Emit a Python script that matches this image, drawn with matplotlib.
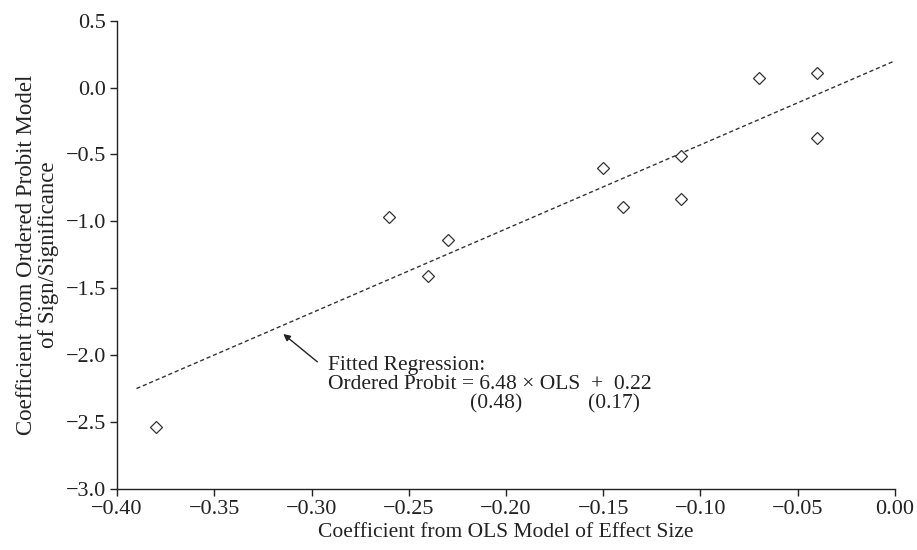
import matplotlib
matplotlib.use("Agg")
import matplotlib.pyplot as plt

# values
ols = [-0.38, -0.26, -0.24, -0.23, -0.15, -0.14, -0.11, -0.11, -0.07, -0.04, -0.04]
probit = [-2.54, -0.97, -1.41, -1.14, -0.60, -0.89, -0.51, -0.83, 0.07, 0.11, -0.38]
fit_x = [-0.39, 0.0]
fit_y = [-2.25, 0.20]

xticks = [-0.40, -0.35, -0.30, -0.25, -0.20, -0.15, -0.10, -0.05, 0.00]
yticks = [-3.0, -2.5, -2.0, -1.5, -1.0, -0.5, 0.0, 0.5]

def fmt(v, nd):
    s = "%.*f" % (nd, abs(v))
    return ("\u2212" + s) if v < 0 else s

plt.rcParams['font.family'] = ['Liberation Serif', 'DejaVu Serif']
fig = plt.figure(figsize=(9.17, 5.5), dpi=100)
ax = fig.add_axes([0.1276, 0.111, 0.976 - 0.1276, 0.9625 - 0.111])

ax.plot(fit_x, fit_y, color='#333333', lw=1.0, dashes=(3, 2))
ax.plot(ols, probit, ls='none', marker='D', ms=6, mfc='white',
        mec='#333333', mew=0.9)

ax.set_xlim(-0.40, 0.0)
ax.set_ylim(-3.0, 0.5)
ax.set_xticks(xticks)
ax.set_xticklabels([fmt(v, 2) for v in xticks])
ax.set_yticks(yticks)
ax.set_yticklabels([fmt(v, 1) for v in yticks])
for s in ['top', 'right']:
    ax.spines[s].set_visible(False)
for s in ['left', 'bottom']:
    ax.spines[s].set_linewidth(1.0)
    ax.spines[s].set_color('#222222')
ax.tick_params(direction='out', length=5, width=1.0, labelsize=16,
               colors='#222222', pad=3)

ax.set_xlabel('Coefficient from OLS Model of Effect Size', fontsize=15.5,
              color='#222222', labelpad=3)
ax.set_ylabel('Coefficient from Ordered Probit Model\nof Sign/Significance',
              fontsize=16.5, color='#222222', labelpad=5, linespacing=1.05)

ax.annotate('', xy=(-0.3145, -1.842), xytext=(-0.297, -2.05),
            arrowprops=dict(arrowstyle='-|>', color='#222222', lw=1.0,
                            mutation_scale=10, shrinkA=0, shrinkB=0))
tk = dict(fontsize=15.5, color='#222222', va='center', ha='left')
ax.text(-0.2915, -2.074, 'Fitted Regression:', **tk)
ax.text(-0.2915, -2.223, 'Ordered Probit = 6.48 \u00d7 OLS  +  0.22', **tk)
ax.text(-0.2185, -2.366, '(0.48)', **tk)
ax.text(-0.158, -2.366, '(0.17)', **tk)

fig.savefig('out.png', dpi=100)
